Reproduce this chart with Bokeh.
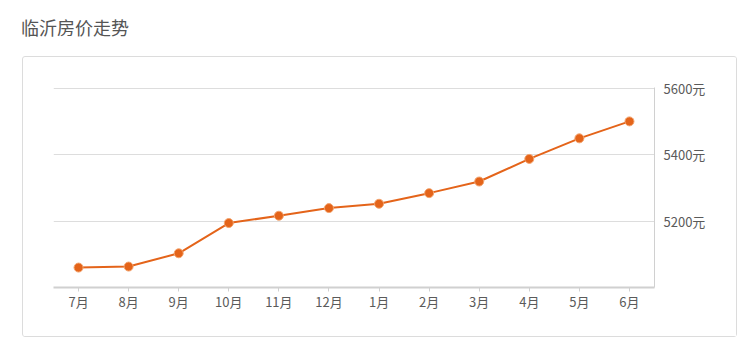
from bokeh.plotting import figure
from bokeh.models import (FactorRange, Range1d, LinearAxis, FixedTicker,
                          PrintfTickFormatter, Div, ColumnDataSource)
from bokeh.layouts import column
from bokeh.embed import file_html
from bokeh.resources import INLINE

title_text = "临沂房价走势"
months = ["7月", "8月", "9月", "10月", "11月", "12月", "1月", "2月", "3月", "4月", "5月", "6月"]
prices = [5060, 5063, 5103, 5194, 5216, 5239, 5252, 5284, 5319, 5387, 5449, 5500]
y_ticks = [5200, 5400, 5600]
y_min, y_max = 5000, 5600

FONT = "Noto Sans CJK SC"
ORANGE = "#e4641a"

src = ColumnDataSource(dict(month=months, price=prices))

p = figure(width=715, height=281, output_backend="svg", toolbar_location=None,
           x_range=FactorRange(*months, range_padding=0),
           y_range=Range1d(y_min, y_max + 2),
           min_border_left=30, min_border_right=84, min_border_top=30, min_border_bottom=51,
           y_axis_location=None, margin=(0, 0, 0, 22),
           styles={"border": "1px solid #dcdcdc", "border-radius": "3px", "box-sizing": "border-box"})
p.outline_line_color = None
p.background_fill_color = "white"
p.border_fill_color = "white"

# x axis
xa = p.xaxis[0]
xa.axis_line_color = "#d0d0d0"
xa.axis_line_width = 2
xa.major_tick_line_color = "#d0d0d0"
xa.major_tick_out = 4
xa.major_tick_in = 0
xa.minor_tick_line_color = None
xa.major_label_text_font = FONT
xa.major_label_text_font_size = "13px"
xa.major_label_text_color = "#5a5a5a"
xa.major_label_standoff = 0

# right y axis
ya = LinearAxis(ticker=FixedTicker(ticks=y_ticks), formatter=PrintfTickFormatter(format="%d元"))
ya.axis_line_color = "#d0d0d0"
ya.axis_line_width = 1
ya.major_tick_line_color = None
ya.minor_tick_line_color = None
ya.major_label_text_font = FONT
ya.major_label_text_font_size = "13px"
ya.major_label_text_color = "#5a5a5a"
ya.major_label_standoff = 3
p.add_layout(ya, "right")

p.xgrid.grid_line_color = None
p.ygrid.ticker = FixedTicker(ticks=y_ticks)
p.ygrid.grid_line_color = "#dddddd"
p.ygrid.grid_line_width = 1

p.line("month", "price", source=src, line_color=ORANGE, line_width=2)
p.scatter("month", "price", source=src, size=9, fill_color=ORANGE, line_color="#f3a46f", line_width=1)

title = Div(text=title_text, width=737, height=46,
            styles={"font-family": FONT, "font-size": "18px", "color": "#555555",
                    "padding-left": "16px", "line-height": "45px", "box-sizing": "border-box"})

layout = column(title, p, spacing=0)

open("out.html", "w").write(file_html(layout, INLINE))
